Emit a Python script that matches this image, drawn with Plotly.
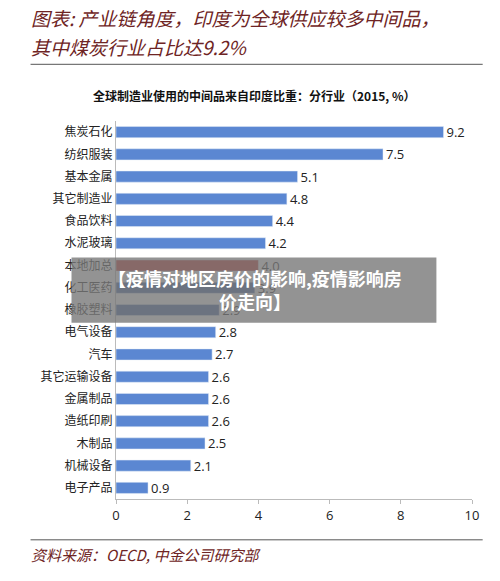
import plotly.graph_objects as go

categories = ["焦炭石化", "纺织服装", "基本金属", "其它制造业", "食品饮料", "水泥玻璃",
              "本地加总", "化工医药", "橡胶塑料", "电气设备", "汽车", "其它运输设备",
              "金属制品", "造纸印刷", "木制品", "机械设备", "电子产品"]
values = [9.2, 7.5, 5.1, 4.8, 4.4, 4.2, 4.0, 3.9, 2.9, 2.8, 2.7, 2.6, 2.6, 2.6, 2.5, 2.1, 0.9]
value_labels = ["9.2", "7.5", "5.1", "4.8", "4.4", "4.2", "4.0", "3.9", "2.9", "2.8", "2.7",
                "2.6", "2.6", "2.6", "2.5", "2.1", "0.9"]

colors = []
for c in categories:
    if c == "本地加总":
        colors.append("#C0302A")
    elif c in ("化工医药", "橡胶塑料"):
        colors.append("#3E5E9E")
    else:
        colors.append("#5B87D2")

fig = go.Figure(go.Bar(
    x=values, y=categories, orientation="h",
    marker_color=colors, width=0.5,
    text=value_labels, textposition="outside", constraintext="none",
    textfont=dict(size=13, color="#222", family="Open Sans"),
    cliponaxis=False,
))

red = "#6E2424"
fig.update_layout(
    width=500, height=581,
    margin=dict(l=108, r=36, t=113, b=90),
    plot_bgcolor="white", paper_bgcolor="white",
    showlegend=False,
    font=dict(family="Noto Sans CJK SC", color="#222"),
    xaxis=dict(range=[0, 10], dtick=2, showgrid=False, zeroline=False,
               showline=True, linecolor="#bbb", ticks="outside", ticklen=4,
               tickcolor="#bbb", tickfont=dict(size=13, family="Open Sans")),
    yaxis=dict(autorange="reversed", showline=True, linecolor="#bbb",
               ticks="", tickfont=dict(size=12, family="Noto Sans CJK SC")),
)

fig.add_annotation(text="<b>全球制造业使用的中间品来自印度比重：分行业（2015, %）</b>",
                   x=0.39, y=1.095, xref="paper", yref="paper", showarrow=False,
                   font=dict(size=12, color="#111"))
fig.add_annotation(text="<i>图表: 产业链角度，印度为全球供应较多中间品，</i>",
                   x=-0.245, y=1.314, xref="paper", yref="paper", xanchor="left",
                   showarrow=False, font=dict(size=19, color=red))
fig.add_annotation(text="<i>其中煤炭行业占比达9.2%</i>",
                   x=-0.245, y=1.238, xref="paper", yref="paper", xanchor="left",
                   showarrow=False, font=dict(size=19, color=red))
fig.add_annotation(text="<i>资料来源：OECD, 中金公司研究部</i>",
                   x=-0.245, y=-0.181, xref="paper", yref="paper", xanchor="left",
                   showarrow=False, font=dict(size=15, color=red))

for yy in (1.15, -0.108):
    fig.add_shape(type="line", xref="paper", yref="paper", x0=-0.24, x1=1.03,
                  y0=yy, y1=yy, line=dict(color="#555", width=1))

# overlay banner
fig.add_shape(type="rect", xref="paper", yref="paper", x0=-0.125, x1=0.9,
              y0=0.466, y1=0.639, fillcolor="rgba(120,120,120,0.8)", line_width=0)
fig.add_annotation(text="<b>【疫情对地区房价的影响,疫情影响房<br>价走向】</b>",
                   x=0.39, y=0.553, xref="paper", yref="paper", showarrow=False,
                   font=dict(size=18, color="white"))

fig.write_html("out.html")
